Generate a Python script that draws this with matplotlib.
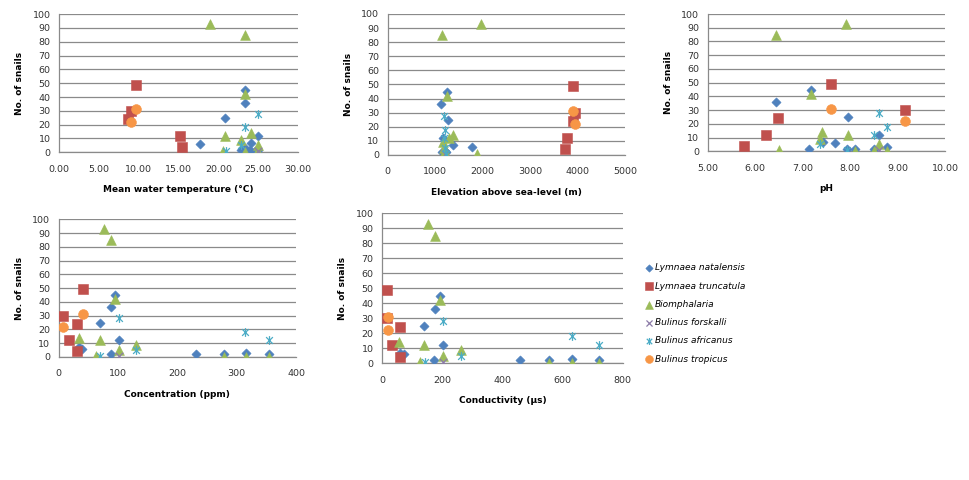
import numpy as np
import matplotlib
matplotlib.use("Agg")
from matplotlib import pyplot as plt
from matplotlib.path import Path
from matplotlib.ticker import FormatStrFormatter

species = ["Lymnaea natalensis", "Lymnaea truncatula", "Biomphalaria",
           "Bulinus forskalli", "Bulinus africanus", "Bulinus tropicus"]

# Excel-like asterisk marker (x plus vertical bar)
star = Path([(-1, -1), (1, 1), (-1, 1), (1, -1), (0, -1.3), (0, 1.3)],
            [Path.MOVETO, Path.LINETO, Path.MOVETO, Path.LINETO, Path.MOVETO, Path.LINETO])

colors = ["#4F81BD", "#C0504D", "#9BBB59", "#8C7BA8", "#4BACC6", "#F79646"]
markers = ["D", "s", "^", "x", star, "o"]
sizes = [22, 52, 50, 30, 40, 50]

# counts per species (x, y)
temp_natalensis = ([23.3, 23.3, 20.9, 25.0, 24.05, 17.7, 23.4, 24.0, 24.6, 25.0, 22.9],
                   [45, 36, 25, 12, 7, 6, 3, 2, 1, 2, 2])
temp_truncatula = ([9.66, 9.04, 8.6, 15.2, 15.4], [49, 30, 24, 12, 4])
temp_biomph = ([19.0, 23.3, 23.3, 24.05, 20.9, 22.9, 25.0, 20.6, 23.3, 24.8, 25.0],
               [93, 85, 42, 14, 12, 9, 5, 1, 0, 0, 0])
temp_forskalli = ([25.0], [1])
temp_africanus = ([25.0, 23.3, 22.9, 21.0], [28, 18, 5, 1])
temp_tropicus = ([9.66, 9.04], [31, 22])

elev_natalensis = ([1243, 1123, 1264, 1159, 1369, 1770, 1200, 1150, 1180, 1210, 1230],
                   [45, 36, 25, 12, 7, 6, 3, 2, 2, 2, 2])
elev_truncatula = ([3911, 3953, 3898, 3785, 3743], [49, 30, 24, 12, 4])
elev_biomph = ([1959, 1151, 1243, 1383, 1290, 1172, 1180, 1875, 1160, 1200, 1220],
               [93, 85, 42, 14, 12, 9, 5, 1, 0, 0, 0])
elev_forskalli = ([1200], [1])
elev_africanus = ([1186, 1207, 1190, 1210, 1230], [28, 18, 12, 5, 1])
elev_tropicus = ([3911, 3940], [31, 22])

ph_natalensis = ([7.17, 6.44, 7.95, 8.61, 7.42, 7.68, 8.78, 7.13, 7.93, 8.10, 8.50],
                 [45, 36, 25, 12, 7, 6, 3, 2, 2, 2, 2])
ph_truncatula = ([7.59, 9.15, 6.48, 6.23, 5.76], [49, 30, 24, 12, 4])
ph_biomph = ([7.91, 6.44, 7.17, 7.40, 7.95, 7.37, 8.62, 6.50, 8.10, 8.50, 8.78],
             [93, 85, 42, 14, 12, 9, 5, 1, 0, 0, 0])
ph_forskalli = ([8.62], [1])
ph_africanus = ([8.61, 8.78, 8.50, 7.37, 7.93], [28, 18, 12, 5, 1])
ph_tropicus = ([7.60, 9.15], [31, 22])

conc_natalensis = ([95.4, 88.2, 70.2, 101.7, 34.5, 40.0, 88.0, 231, 279, 315, 355],
                   [45, 36, 25, 12, 7, 6, 2, 2, 2, 3, 2])
conc_truncatula = ([41, 8, 30, 16.5, 30.5], [49, 30, 24, 12, 4])
conc_biomph = ([76.4, 88.2, 95.4, 33.7, 70.2, 131, 101.7, 63.5, 279, 315, 355],
               [93, 85, 42, 14, 12, 9, 5, 1, 0, 0, 0])
conc_forskalli = ([101.7], [1])
conc_africanus = ([101.7, 314.6, 355, 131, 69.6], [28, 18, 12, 5, 1])
conc_tropicus = ([41, 8], [31, 22])

cond_natalensis = ([194, 176, 139.6, 204, 60, 74, 173, 460, 556, 630.5, 722.5],
                   [45, 36, 25, 12, 7, 6, 2, 2, 2, 3, 2])
cond_truncatula = ([17.6, 18, 61, 32, 60], [49, 30, 24, 12, 4])
cond_biomph = ([154, 176, 194, 58, 139.6, 263, 204, 127, 556, 630.5, 722.5],
               [93, 85, 42, 14, 12, 9, 5, 1, 0, 0, 0])
cond_forskalli = ([204], [1])
cond_africanus = ([203, 630.5, 722.5, 263, 143], [28, 18, 12, 5, 1])
cond_tropicus = ([19, 19], [31, 22])

panels = [
    ([0.0609, 0.6827, 0.2466, 0.288], "Mean water temperature (°C)", (0, 30), np.arange(0, 31, 5), "%.2f",
     [temp_natalensis, temp_truncatula, temp_biomph, temp_forskalli, temp_africanus, temp_tropicus]),
    ([0.4001, 0.6771, 0.2449, 0.2938], "Elevation above sea-level (m)", (0, 5000), np.arange(0, 5001, 1000), "%d",
     [elev_natalensis, elev_truncatula, elev_biomph, elev_forskalli, elev_africanus, elev_tropicus]),
    ([0.7303, 0.6848, 0.2449, 0.286], "pH", (5, 10), np.arange(5, 10.01, 1), "%.2f",
     [ph_natalensis, ph_truncatula, ph_biomph, ph_forskalli, ph_africanus, ph_tropicus]),
    ([0.0606, 0.2563, 0.2449, 0.2869], "Concentration (ppm)", (0, 400), np.arange(0, 401, 100), "%d",
     [conc_natalensis, conc_truncatula, conc_biomph, conc_forskalli, conc_africanus, conc_tropicus]),
    ([0.3942, 0.2431, 0.2484, 0.3125], "Conductivity (µs)", (0, 800), np.arange(0, 801, 200), "%d",
     [cond_natalensis, cond_truncatula, cond_biomph, cond_forskalli, cond_africanus, cond_tropicus]),
]

fig = plt.figure(figsize=(9.69, 4.8), dpi=100)
fig.patch.set_facecolor("white")

handles = []
for rect, xlabel, xlim, xticks, fmt, series in panels:
    ax = fig.add_axes(rect)
    handles = []
    for i, (xs, ys) in enumerate(series):
        if markers[i] == "x" or markers[i] is star:
            h = ax.scatter(xs, ys, marker=markers[i], s=sizes[i], color=colors[i],
                           linewidths=0.9, zorder=3, label=species[i])
        else:
            h = ax.scatter(xs, ys, marker=markers[i], s=sizes[i], color=colors[i],
                           edgecolors=colors[i], linewidths=0.4, zorder=3, label=species[i])
        handles.append(h)
    ax.set_xlim(*xlim)
    ax.set_ylim(0, 100)
    ax.set_xticks(xticks)
    ax.set_yticks(np.arange(0, 101, 10))
    ax.xaxis.set_major_formatter(FormatStrFormatter(fmt))
    ax.yaxis.grid(True, color="#8a8a8a", linewidth=0.9)
    ax.set_axisbelow(True)
    for s in ["top", "right"]:
        ax.spines[s].set_visible(False)
    for s in ["left", "bottom"]:
        ax.spines[s].set_color("#8a8a8a")
        ax.spines[s].set_linewidth(0.9)
    ax.tick_params(axis="both", length=0, labelsize=6.8, colors="#333333", pad=6)
    ax.tick_params(axis="x", pad=9)
    ax.set_xlabel(xlabel, fontsize=6.5, fontweight="bold", labelpad=8)
    ax.set_ylabel("No. of snails", fontsize=6.5, fontweight="bold", labelpad=6)
    ax.set_facecolor("white")

leg = fig.legend(handles, species, loc="upper left", bbox_to_anchor=(0.657, 0.468),
                 frameon=False, fontsize=6.5, handletextpad=0.1, labelspacing=1.02,
                 handlelength=1.0, markerscale=0.8)
for t in leg.get_texts():
    t.set_fontstyle("italic")

fig.savefig("out.png", dpi=100, facecolor="white")
